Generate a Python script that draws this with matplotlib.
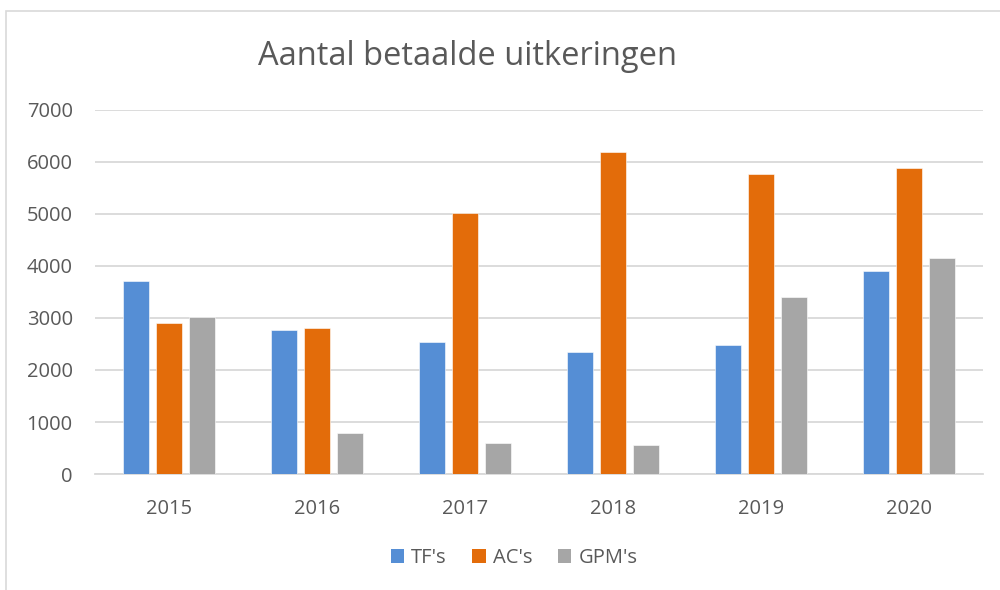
import matplotlib
matplotlib.use("Agg")
import matplotlib.pyplot as plt
import numpy as np
from matplotlib.patches import Rectangle, Patch

years = ["2015", "2016", "2017", "2018", "2019", "2020"]
tf = [3720, 2765, 2540, 2355, 2485, 3905]
ac = [2905, 2815, 5015, 6185, 5760, 5890]
gpm = [3015, 780, 590, 565, 3410, 4160]
series_names = ["TF's", "AC's", "GPM's"]
colors = ["#558ED5", "#E36C0A", "#A6A6A6"]
yticks = [0, 1000, 2000, 3000, 4000, 5000, 6000, 7000]

plt.rcParams['font.family'] = ['Open Sans', 'DejaVu Sans']
text_color = "#595959"

fig = plt.figure(figsize=(10, 5.9), dpi=100)
ax = fig.add_axes([0.095, 0.1966, 0.888, 0.617])

x = np.arange(len(years))
w = 0.176
step = 0.223
for i, (vals, c, name) in enumerate(zip([tf, ac, gpm], colors, series_names)):
    ax.bar(x + (i - 1) * step, vals, width=w, color=c, label=name, zorder=3,
           edgecolor="white", linewidth=0.4)

ax.set_xlim(-0.5, len(years) - 0.5)
ax.set_ylim(0, 7000)
ax.set_yticks(yticks)
ax.set_yticklabels([str(v) for v in yticks])
ax.set_xticks(x)
ax.set_xticklabels(years)
ax.grid(axis='y', color="#D9D9D9", linewidth=1.3, zorder=0)
for s in ["top", "right", "left"]:
    ax.spines[s].set_visible(False)
ax.spines["bottom"].set_color("#D9D9D9")
ax.spines["bottom"].set_linewidth(1.3)
ax.tick_params(axis='both', length=0, labelsize=14.5, colors=text_color)
ax.tick_params(axis='y', pad=16)
ax.tick_params(axis='x', pad=18)

fig.text(0.467, 0.905, "Aantal betaalde uitkeringen", ha='center', va='center',
         fontsize=23.5, color=text_color)

handles = [Patch(facecolor=c, label=n) for c, n in zip(colors, series_names)]
leg = fig.legend(handles=handles, loc='center', bbox_to_anchor=(0.514, 0.054),
                 ncol=3, frameon=False, fontsize=14.5, handlelength=0.65,
                 handleheight=0.65, handletextpad=0.35, columnspacing=1.3)
for t in leg.get_texts():
    t.set_color(text_color)

fig.patches.append(Rectangle((0.006, -0.01), 1.2, 0.9915, transform=fig.transFigure,
                             fill=False, edgecolor="#D9D9D9", linewidth=1.2))

fig.savefig("out.png", dpi=100)
